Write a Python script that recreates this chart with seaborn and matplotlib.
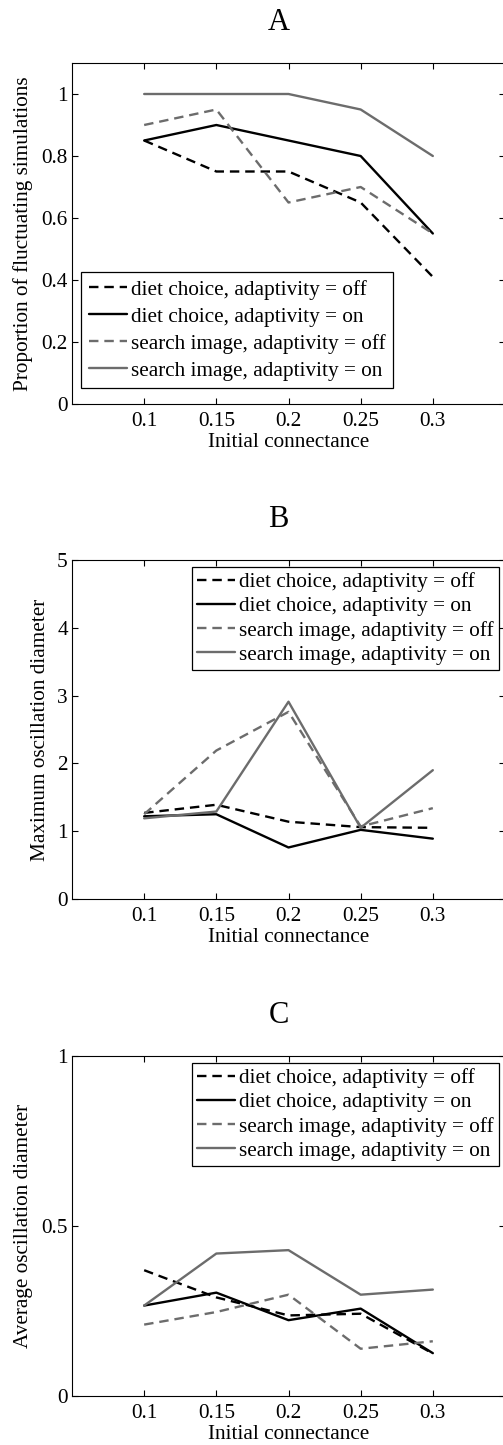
import numpy as np
import pandas as pd
import matplotlib
matplotlib.use("Agg")
import matplotlib.pyplot as plt
import seaborn as sns

# x values and series names
connectance = [0.1, 0.15, 0.2, 0.25, 0.3]
series_names = [
    "diet choice, adaptivity = off",
    "diet choice, adaptivity = on",
    "search image, adaptivity = off",
    "search image, adaptivity = on",
]

# panel A: proportion of fluctuating simulations
prop_diet_off = [0.85, 0.75, 0.75, 0.65, 0.41]
prop_diet_on = [0.85, 0.90, 0.85, 0.80, 0.55]
prop_search_off = [0.90, 0.95, 0.65, 0.70, 0.55]
prop_search_on = [1.00, 1.00, 1.00, 0.95, 0.80]

# panel B: maximum oscillation diameter
max_diet_off = [1.27, 1.39, 1.14, 1.06, 1.05]
max_diet_on = [1.22, 1.25, 0.76, 1.02, 0.89]
max_search_off = [1.25, 2.19, 2.76, 1.07, 1.34]
max_search_on = [1.19, 1.29, 2.91, 1.05, 1.90]

# panel C: average oscillation diameter
avg_diet_off = [0.370, 0.290, 0.237, 0.242, 0.125]
avg_diet_on = [0.266, 0.304, 0.223, 0.257, 0.126]
avg_search_off = [0.210, 0.247, 0.298, 0.139, 0.161]
avg_search_on = [0.266, 0.419, 0.429, 0.298, 0.313]

xtick_labels = ["0.1", "0.15", "0.2", "0.25", "0.3"]

GRAY = "#6c6c6c"
palette = dict(zip(series_names, ["black", "black", GRAY, GRAY]))
dashes = dict(zip(series_names, [(4, 2.5), "", (4, 2.5), ""]))


def long_frame(values):
    rows = []
    for name, vals in zip(series_names, values):
        for x, v in zip(connectance, vals):
            rows.append({"connectance": x, "value": v, "series": name})
    return pd.DataFrame(rows)


sns.set_theme(style="ticks")
plt.rcParams["font.family"] = ["Liberation Serif", "DejaVu Serif"]
plt.rcParams["axes.linewidth"] = 0.8
plt.rcParams["axes.edgecolor"] = "black"
plt.rcParams["xtick.color"] = "black"
plt.rcParams["ytick.color"] = "black"
plt.rcParams["text.color"] = "black"
plt.rcParams["axes.labelcolor"] = "black"

FS = 15.3

fig = plt.figure(figsize=(5.03, 14.45), dpi=100)

panels = [
    dict(title="A", values=[prop_diet_off, prop_diet_on, prop_search_off, prop_search_on],
         ylabel="Proportion of fluctuating simulations", ylim=(0, 1.1),
         yticks=[0, 0.2, 0.4, 0.6, 0.8, 1], yticklabels=["0", "0.2", "0.4", "0.6", "0.8", "1"],
         top=63, bottom=404, ylab_x=-0.09, spacing=0.33, bpad=0.35,
         leg=dict(loc="lower left", bbox_to_anchor=(0.021, 0.047))),
    dict(title="B", values=[max_diet_off, max_diet_on, max_search_off, max_search_on],
         ylabel="Maximum oscillation diameter", ylim=(0, 5),
         yticks=[0, 1, 2, 3, 4, 5], yticklabels=["0", "1", "2", "3", "4", "5"],
         top=560, bottom=899, ylab_x=-0.051, spacing=0.2, bpad=0.25,
         leg=dict(loc="upper right", bbox_to_anchor=(0.987, 0.979))),
    dict(title="C", values=[avg_diet_off, avg_diet_on, avg_search_off, avg_search_on],
         ylabel="Average oscillation diameter", ylim=(0, 1),
         yticks=[0, 0.5, 1], yticklabels=["0", "0.5", "1"],
         top=1056, bottom=1396, ylab_x=-0.09, spacing=0.2, bpad=0.25,
         leg=dict(loc="upper right", bbox_to_anchor=(0.987, 0.979))),
]

W, H = 503, 1445
for p in panels:
    left, right = 72, 505
    ax = fig.add_axes([left / W, 1 - p["bottom"] / H, (right - left) / W,
                       (p["bottom"] - p["top"]) / H])
    df = long_frame(p["values"])
    sns.lineplot(data=df, x="connectance", y="value", hue="series", style="series",
                 hue_order=series_names, style_order=series_names,
                 palette=palette, dashes=dashes, linewidth=1.7,
                 errorbar=None, ax=ax)

    ax.set_xlim(0.05, 0.35)
    ax.set_ylim(*p["ylim"])
    ax.set_xticks(connectance)
    ax.set_xticklabels(xtick_labels)
    ax.set_yticks(p["yticks"])
    ax.set_yticklabels(p["yticklabels"])
    ax.tick_params(direction="in", length=4, width=0.8, top=True, right=True,
                   labelsize=FS)
    ax.tick_params(axis="x", pad=6)
    ax.tick_params(axis="y", pad=3)
    for s in ax.spines.values():
        s.set_visible(True)
        s.set_linewidth(0.8)
        s.set_color("black")

    ax.set_xlabel("Initial connectance", fontsize=FS, labelpad=1)
    ax.set_ylabel(p["ylabel"], fontsize=FS)
    ax.yaxis.set_label_coords(p["ylab_x"], 0.5)
    ax.set_title(p["title"], fontsize=22, pad=24, x=0.477)

    sns.move_legend(ax, p["leg"]["loc"], bbox_to_anchor=p["leg"]["bbox_to_anchor"],
                    title=None, frameon=True, fancybox=False, fontsize=FS,
                    borderaxespad=0, borderpad=p["bpad"], labelspacing=p["spacing"],
                    handlelength=1.8, handletextpad=0.2)
    leg = ax.get_legend()
    leg.get_frame().set_edgecolor("black")
    leg.get_frame().set_linewidth(0.9)
    leg.get_frame().set_alpha(1)
    for h in leg.legend_handles:
        h.set_linewidth(1.7)

fig.savefig("out.png", dpi=100)
